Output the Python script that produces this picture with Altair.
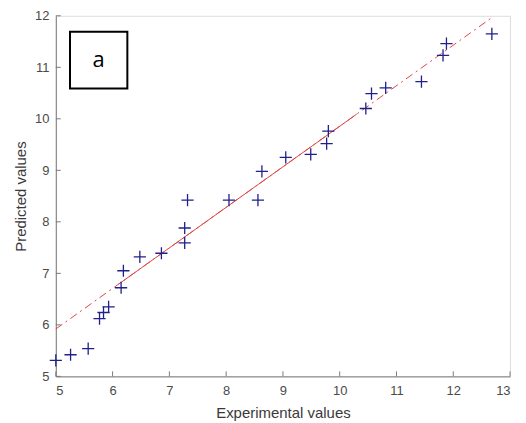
import altair as alt
import pandas as pd

# Data
exp_vals = [5.00, 5.26, 5.57, 5.77, 5.84, 5.93, 6.15, 6.19, 6.48, 6.86, 7.27, 7.27,
            7.32, 8.05, 8.56, 8.63, 9.05, 9.49, 9.77, 9.80, 10.46, 10.56, 10.81,
            11.44, 11.82, 11.88, 12.68]
pred_vals = [5.31, 5.42, 5.54, 6.12, 6.24, 6.35, 6.72, 7.05, 7.32, 7.39, 7.59, 7.88,
             8.42, 8.42, 8.42, 8.98, 9.25, 9.31, 9.52, 9.76, 10.20, 10.49, 10.60,
             10.72, 11.23, 11.46, 11.65]

# fitted line end points
fit_x = [5.0, 12.7]
fit_y = [5.92, 11.98]
solid_x = [6.1, 10.3]
solid_y = [5.92 + (6.1 - 5.0) * 0.787, 5.92 + (10.3 - 5.0) * 0.787]

x_ticks = [5, 6, 7, 8, 9, 10, 11, 12, 13]
y_ticks = [5, 6, 7, 8, 9, 10, 11, 12]

# annotation box "a" in data coordinates
box = pd.DataFrame({"x": [5.25], "x2": [6.26], "y": [10.59], "y2": [11.69],
                    "tx": [5.755], "ty": [11.14], "label": ["a"]})

W, H = 456, 362
xs = alt.Scale(domain=[5, 13], nice=False, zero=False)
ys = alt.Scale(domain=[5, 12], nice=False, zero=False)

axis_common = dict(grid=False, ticks=False, domainColor="#7a7a7a", domainWidth=1,
                   labelColor="#4a4a4a", labelFont="Liberation Sans", labelFontSize=13,
                   titleColor="#3a3a3a", titleFont="Liberation Sans", titleFontSize=15,
                   titleFontWeight="normal", format="d")

pts = pd.DataFrame({"exp": exp_vals, "pred": pred_vals})
plus = "M-1,0L1,0M0,-1L0,1"

points = alt.Chart(pts).mark_point(shape=plus, size=150, filled=False,
                                   strokeWidth=1.3, color="#20208a", opacity=1).encode(
    x=alt.X("exp:Q", scale=xs, title="Experimental values",
            axis=alt.Axis(values=x_ticks, labelPadding=8, titlePadding=8, **axis_common)),
    y=alt.Y("pred:Q", scale=ys, title="Predicted values",
            axis=alt.Axis(values=y_ticks, labelPadding=7, titlePadding=6, **axis_common)),
)

fit_df = pd.DataFrame({"exp": fit_x, "pred": fit_y})
fit = alt.Chart(fit_df).mark_line(color="#e04545", strokeWidth=1,
                                  strokeDash=[8, 4, 2, 4]).encode(
    x=alt.X("exp:Q", scale=xs), y=alt.Y("pred:Q", scale=ys))

solid_df = pd.DataFrame({"exp": solid_x, "pred": solid_y})
solid = alt.Chart(solid_df).mark_line(color="#e04545", strokeWidth=1).encode(
    x=alt.X("exp:Q", scale=xs), y=alt.Y("pred:Q", scale=ys))

xt = alt.Chart(pd.DataFrame({"t": x_ticks})).mark_rule(color="#7a7a7a").encode(
    x=alt.X("t:Q", scale=xs), y=alt.value(H), y2=alt.value(H - 5))
yt = alt.Chart(pd.DataFrame({"t": y_ticks})).mark_rule(color="#7a7a7a").encode(
    y=alt.Y("t:Q", scale=ys), x=alt.value(0), x2=alt.value(5))

rect = alt.Chart(box).mark_rect(fill="white", stroke="black", strokeWidth=2).encode(
    x=alt.X("x:Q", scale=xs), x2="x2:Q", y=alt.Y("y:Q", scale=ys), y2="y2:Q")
txt = alt.Chart(box).mark_text(font="Open Sans", fontSize=22, color="black",
                               baseline="middle", align="center").encode(
    x=alt.X("tx:Q", scale=xs), y=alt.Y("ty:Q", scale=ys), text="label:N")

chart = alt.layer(fit, solid, points, xt, yt, rect, txt).properties(
    width=W, height=H,
    autosize=alt.AutoSizeParams(type="none"),
    padding={"left": 48, "top": 7, "right": 8, "bottom": 46},
).configure_view(stroke=None).configure(background="white")

chart.save("out.html", embed_options={"renderer": "svg", "actions": False})
